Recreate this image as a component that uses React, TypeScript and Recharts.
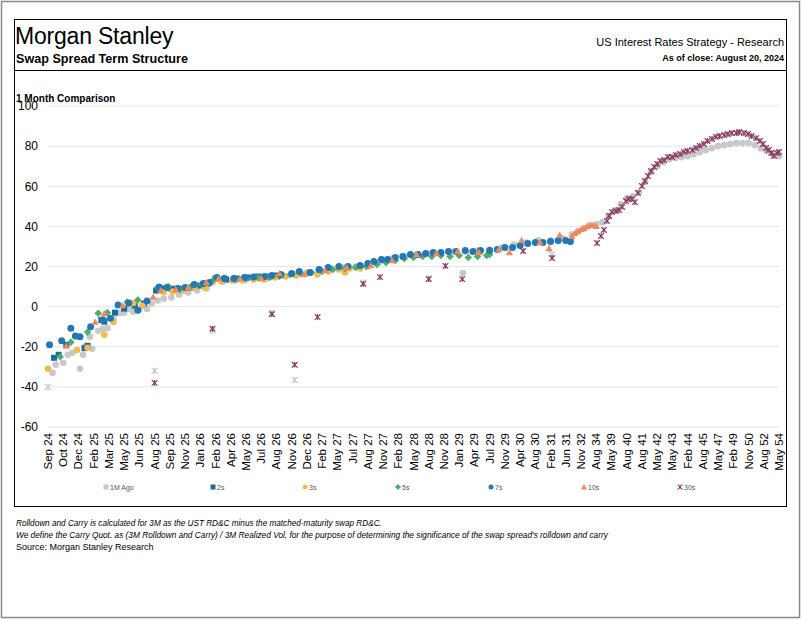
import React from 'react';
import { ScatterChart, Scatter, XAxis, YAxis, CartesianGrid } from 'recharts';

type Pt = [number, number];

// x = position along the maturity axis (in tick-label units), y = spread (bp)
const xLabels = [
	'Sep 24', 'Oct 24', 'Dec 24', 'Feb 25', 'Mar 25', 'May 25', 'Jun 25', 'Aug 25', 'Sep 25', 'Nov 25',
	'Jan 26', 'Feb 26', 'Apr 26', 'May 26', 'Jul 26', 'Aug 26', 'Nov 26', 'Dec 26', 'Feb 27', 'May 27',
	'Jul 27', 'Aug 27', 'Nov 27', 'Feb 28', 'May 28', 'Aug 28', 'Nov 28', 'Jan 29', 'Apr 29', 'Jul 29',
	'Nov 29', 'Apr 30', 'Aug 30', 'Feb 31', 'Jun 31', 'Nov 32', 'Aug 34', 'May 39', 'Aug 40', 'Aug 41',
	'May 42', 'May 43', 'Feb 44', 'Aug 45', 'May 47', 'Feb 49', 'Nov 50', 'Aug 52', 'May 54',
];
const yTicks = [-60, -40, -20, 0, 20, 40, 60, 80, 100];

const s1MAgo: Pt[] = [
	[0.3, -33], [0.5, -29], [1.0, -28], [1.3, -24], [1.6, -23], [2.1, -31], [2.3, -24], [2.4, -20],
	[2.75, -15], [2.9, -21], [3.3, -12], [3.6, -11], [3.9, -10.7], [4.3, -6], [4.7, -3.2], [5.0, -3],
	[5.3, -1.2], [5.6, -2.5], [6.0, -1.2], [6.5, -1.2], [6.8, 1.5], [7.2, 3], [7.6, 4], [8.1, 4.5],
	[8.6, 6], [9.2, 7], [9.8, 8], [10.4, 9], [10.8, 12], [11.5, 12.5], [12.3, 13], [13.0, 13.5],
	[13.8, 14], [14.6, 14.5], [15.4, 15.5], [16.2, 16], [17.0, 17], [17.8, 18], [18.6, 19], [19.4, 19.5],
	[20.2, 20], [21.0, 21], [21.8, 22.5], [22.6, 24], [23.4, 25], [24.2, 26], [25.0, 26.5], [25.8, 27],
	[26.6, 27.5], [27.25, 16.7], [27.4, 27.5], [28.2, 28], [29.0, 28.5], [29.8, 29.5], [30.6, 31],
	[31.4, 32], [32.2, 33], [33.0, 33], [33.8, 34], [34.4, 36], [34.8, 37.5], [35.2, 39], [35.6, 40.5],
	[36.0, 41], [36.4, 42], [36.8, 45], [37.2, 48], [37.6, 51], [38.0, 54], [38.4, 55], [38.8, 57],
	[39.2, 62], [39.6, 67], [40.0, 70], [40.4, 72], [40.8, 73.5], [41.2, 74], [41.6, 74.5], [42.0, 75],
	[42.4, 76], [42.8, 77], [43.2, 78], [43.6, 79], [44.0, 80], [44.4, 80.5], [44.8, 81], [45.2, 81.5],
	[45.6, 81.5], [46.0, 81.5], [46.4, 80.5], [46.8, 79], [47.2, 77.5], [47.6, 76], [48.0, 75],
];
const s1MAgoOdd: Pt[] = [
	[0.0, -40], [7.0, -32], [10.8, -12], [14.7, -3], [16.2, -36.6], [20.7, 12], [25.0, 14], [33.1, 26],
];
const s2s: Pt[] = [
	[0.4, -25.5], [0.7, -24], [1.2, -19], [2.4, -20.7], [2.6, -19.5], [3.5, -6.7], [3.7, -7.5], [4.4, -3],
	[5.0, -1], [5.7, 0.5], [6.3, 1.5], [7.1, 8], [7.5, 9], [8.1, 9], [8.8, 8.5], [9.4, 9.5], [10.0, 10.5],
	[10.5, 11.5], [11.0, 14], [11.7, 13.5], [12.4, 14], [13.1, 14.5], [13.8, 15], [14.5, 15], [15.0, 15.5],
];
const s3s: Pt[] = [
	[0.0, -31], [1.9, -21.6], [2.6, -20.5], [3.7, -14], [4.3, -7.7], [5.6, 1.8], [6.2, 0.5], [7.6, 7.3],
	[8.2, 7.5], [8.9, 8], [9.6, 9.5], [10.3, 9.5], [10.8, 12.5], [11.4, 12.5], [12.1, 13], [12.8, 13],
	[13.5, 13.5], [14.2, 13.5], [14.9, 14.5], [15.6, 15], [16.3, 15.5], [17.0, 16.5], [17.7, 16],
	[18.4, 17.5], [19.1, 18.5], [19.5, 17], [19.8, 19], [20.5, 19], [21.0, 20],
];
const s5s: Pt[] = [
	[0.8, -25], [1.5, -17.7], [2.6, -12.7], [3.3, -3.3], [3.9, -3], [5.2, 2.3], [5.9, 3.3], [7.2, 9.5],
	[7.9, 10], [8.7, 9], [9.4, 10], [10.1, 11], [10.9, 13.5], [11.5, 14], [12.3, 13.5], [13.0, 14],
	[13.8, 14.5], [14.5, 14.5], [15.2, 15], [15.9, 16], [16.6, 16.5], [17.3, 17], [18.0, 17.5],
	[18.7, 18.5], [19.5, 19], [20.2, 19.5], [20.9, 20], [21.6, 21], [22.2, 22], [22.8, 23], [23.4, 24],
	[24.0, 24.5], [24.6, 25], [25.2, 25], [25.8, 25.5], [26.4, 25], [27.0, 25.5], [27.6, 24.5],
	[28.2, 25], [28.8, 25.5], [29.0, 26],
];
const s7s: Pt[] = [
	[0.1, -19], [0.9, -17], [1.5, -10.8], [1.8, -14.7], [2.1, -15], [2.8, -10], [3.6, -6.5], [4.1, -5.8],
	[4.6, 0.8], [5.3, 1.8], [5.9, -1.8], [6.5, 2.8], [7.3, 9.8], [7.8, 9.5], [8.5, 9], [9.0, 9.5],
	[9.6, 11], [10.2, 11.5], [10.6, 12], [11.1, 14.5], [11.6, 14], [12.2, 14], [12.9, 14.5], [13.5, 14.8],
	[14.2, 15], [14.7, 15.5], [15.3, 16], [16.0, 16.5], [16.5, 17.5], [17.2, 17], [17.8, 18.5],
	[18.4, 19.5], [19.1, 20], [19.7, 20], [20.5, 20.5], [21.0, 21.5], [21.4, 22.5], [21.9, 23.5],
	[22.3, 23.5], [22.8, 24.5], [23.3, 25], [23.8, 26], [24.3, 26], [24.8, 26.5], [25.3, 27], [25.8, 27],
	[26.3, 27.5], [26.8, 27.5], [27.4, 28], [27.9, 27.5], [28.4, 28], [29.0, 28], [29.5, 28.5],
	[30.0, 29.5], [30.5, 29.5], [31.0, 30.5], [31.5, 31.5], [32.0, 32], [32.5, 32], [33.0, 32.5],
	[33.5, 33], [34.0, 33], [34.3, 32.5],
];
const s10s: Pt[] = [
	[1.2, -19.6], [3.1, -7.7], [3.7, -3.5], [4.9, 0.5], [6.9, 4.8], [7.4, 8], [8.4, 8.5], [9.2, 9.5],
	[10.4, 12], [11.2, 14], [12.6, 14], [14.0, 14], [15.2, 16.5], [16.8, 16], [18.2, 18], [19.6, 19.5],
	[21.2, 20.5], [22.6, 23], [24.2, 26], [25.5, 26.5], [26.9, 27.5], [28.3, 27], [29.6, 28.5],
	[30.3, 27], [31.1, 33], [32.3, 32], [32.9, 29], [33.6, 35.7], [34.4, 35], [34.6, 36.5], [34.8, 37.5],
	[35.0, 38.5], [35.2, 39], [35.4, 40], [35.6, 40.5], [35.8, 40.5], [36.0, 40],
];
const s30s: Pt[] = [
	[7.0, -38], [10.8, -11], [14.7, -3.8], [16.2, -29], [17.7, -5.2], [20.7, 11.3], [21.8, 14.7],
	[25.0, 13.7], [26.1, 20.3], [27.2, 13.7], [31.2, 27.7], [33.1, 24.2], [36.05, 31.7],
	[36.31, 35.2], [36.5, 38.2], [36.7, 42.7], [36.84, 45.2], [37.03, 47.2], [37.3, 47.7], [37.5, 48.2],
	[37.7, 49.7], [37.95, 52.6], [38.15, 53.6], [38.35, 53.6], [38.54, 52.1], [38.74, 56.6], [39.0, 60.1],
	[39.2, 62.6], [39.4, 65.1], [39.6, 67.6], [39.8, 69.6], [40.0, 71.1], [40.2, 72.6], [40.45, 73.1],
	[40.7, 74.6], [40.97, 74.6], [41.23, 75.6], [41.5, 76.1], [41.76, 77.1], [42.0, 77.6], [42.3, 78.1],
	[42.55, 79.1], [42.8, 80.1], [43.07, 81.1], [43.3, 82.6], [43.6, 83.6], [43.86, 84.6], [44.1, 85.0],
	[44.4, 85.5], [44.65, 86.0], [44.9, 86.5], [45.2, 86.5], [45.4, 87.0], [45.7, 86.5], [45.96, 86.0],
	[46.2, 85.0], [46.5, 84.0], [46.75, 82.6], [46.95, 81.1], [47.15, 79.1], [47.34, 78.1], [47.5, 76.6],
	[47.67, 75.1], [47.87, 76.6], [48.0, 77.1],
];

const C = {
	ago: '#c8c8c8',
	s2: '#1b6b9a',
	s3: '#eebb4d',
	s5: '#4fae6c',
	s7: '#2178b4',
	s10: '#ef8a5c',
	s30: '#8a3a63',
};

const FONT = '"Liberation Sans", Arial, Helvetica, sans-serif';

const toPts = (arr: Pt[]) => arr.map(([x, y]) => ({ x, y }));

const dot = (color: string, r: number) => (p: any) => (
	<circle cx={p.cx} cy={p.cy} r={r} fill={color} />
);
const square = (color: string, s: number) => (p: any) => (
	<rect x={p.cx - s / 2} y={p.cy - s / 2} width={s} height={s} fill={color} />
);
const diamond = (color: string, s: number) => (p: any) => (
	<polygon
		points={`${p.cx},${p.cy - s} ${p.cx + s},${p.cy} ${p.cx},${p.cy + s} ${p.cx - s},${p.cy}`}
		fill={color}
	/>
);
const triangle = (color: string, s: number) => (p: any) => (
	<polygon
		points={`${p.cx},${p.cy - s} ${p.cx + s},${p.cy + s * 0.75} ${p.cx - s},${p.cy + s * 0.75}`}
		fill={color}
	/>
);
const star = (color: string, s: number) => (p: any) => (
	<g stroke={color} strokeWidth={1.2}>
		<line x1={p.cx - s} y1={p.cy - s} x2={p.cx + s} y2={p.cy + s} />
		<line x1={p.cx - s} y1={p.cy + s} x2={p.cx + s} y2={p.cy - s} />
		<line x1={p.cx} y1={p.cy - s} x2={p.cx} y2={p.cy + s} />
	</g>
);

const XTick = ({ x, y, payload }: any) => (
	<text
		x={x}
		y={y}
		transform={`rotate(-90, ${x}, ${y})`}
		textAnchor="end"
		dy="0.35em"
		fontSize={11.5}
		fontFamily={FONT}
		fill="#000"
	>
		{xLabels[payload.value]}
	</text>
);

const legendItems = [
	{ label: '1M Ago', x: 106, kind: 'square', color: C.ago },
	{ label: '2s', x: 213, kind: 'square', color: C.s2 },
	{ label: '3s', x: 305, kind: 'circle', color: C.s3 },
	{ label: '5s', x: 398, kind: 'diamond', color: C.s5 },
	{ label: '7s', x: 491, kind: 'circle', color: C.s7 },
	{ label: '10s', x: 584, kind: 'triangle', color: C.s10 },
	{ label: '30s', x: 680, kind: 'star', color: C.s30 },
];

function LegendMark({ kind, x, y, color }: any) {
	if (kind === 'square') return <rect x={x - 2.5} y={y - 2.5} width={5} height={5} fill={color} />;
	if (kind === 'circle') return <circle cx={x} cy={y} r={2.5} fill={color} />;
	if (kind === 'diamond')
		return <polygon points={`${x},${y - 3} ${x + 3},${y} ${x},${y + 3} ${x - 3},${y}`} fill={color} />;
	if (kind === 'triangle')
		return <polygon points={`${x},${y - 3} ${x + 3},${y + 2.5} ${x - 3},${y + 2.5}`} fill={color} />;
	return (
		<g stroke={color} strokeWidth={1}>
			<line x1={x - 2.5} y1={y - 2.5} x2={x + 2.5} y2={y + 2.5} />
			<line x1={x - 2.5} y1={y + 2.5} x2={x + 2.5} y2={y - 2.5} />
			<line x1={x} y1={y - 2.5} x2={x} y2={y + 2.5} />
		</g>
	);
}

export default function App() {
	const xTicks = xLabels.map((_, i) => i);
	return (
		<div style={{ position: 'absolute', left: 0, top: 0, width: 802, height: 620, background: '#fff', fontFamily: FONT }}>
			<svg width={802} height={620} style={{ position: 'absolute', left: 0, top: 0 }}>
				<rect x={1.5} y={1.5} width={798} height={616} fill="none" stroke="#8a8a8a" strokeWidth={1.5} />
				<rect x={14.5} y={19.5} width={772} height={487} fill="none" stroke="#000" strokeWidth={1} />
				<line x1={14} y1={70.5} x2={787} y2={70.5} stroke="#000" strokeWidth={1.2} />
				<text x={15} y={44} fontSize={23} fill="#000" letterSpacing={-0.2} fontFamily={FONT}>
					Morgan Stanley
				</text>
				<text x={16} y={63} fontSize={12.6} fontWeight="bold" fill="#000" fontFamily={FONT}>
					Swap Spread Term Structure
				</text>
				<text x={784} y={46} fontSize={11} textAnchor="end" fill="#000" fontFamily={FONT}>
					US Interest Rates Strategy - Research
				</text>
				<text x={784} y={61} fontSize={9} fontWeight="bold" textAnchor="end" fill="#000" fontFamily={FONT}>
					As of close: August 20, 2024
				</text>
				<text x={16} y={102} fontSize={10} fontWeight="bold" fill="#000" fontFamily={FONT}>
					1 Month Comparison
				</text>
				{legendItems.map((it) => (
					<g key={it.label}>
						<LegendMark kind={it.kind} x={it.x} y={487} color={it.color} />
						<text x={it.x + 4} y={489.5} fontSize={7} fill="#555" fontFamily={FONT}>
							{it.label}
						</text>
					</g>
				))}
				<text x={16} y={526} fontSize={8.2} fontStyle="italic" fill="#000" fontFamily={FONT}>
					Rolldown and Carry is calculated for 3M as the UST RD&amp;C minus the matched-maturity swap RD&amp;C.
				</text>
				<text x={16} y={538} fontSize={8.3} fontStyle="italic" fill="#000" fontFamily={FONT}>
					We define the Carry Quot. as (3M Rolldown and Carry) / 3M Realized Vol, for the purpose of determining the significance of the swap spread's rolldown and carry
				</text>
				<text x={16} y={550} fontSize={9} fill="#000" fontFamily={FONT}>
					Source: Morgan Stanley Research
				</text>
			</svg>
			<div style={{ position: 'absolute', left: 0, top: 0 }}>
				<ScatterChart width={802} height={480} margin={{ top: 106, right: 23, bottom: 0, left: 0 }}>
					<CartesianGrid horizontal vertical={false} stroke="#e6e6e6" />
					<XAxis
						type="number"
						dataKey="x"
						domain={[0, 48]}
						ticks={xTicks}
						interval={0}
						axisLine={false}
						tickLine={false}
						tickSize={0}
						tickMargin={6}
						height={53}
						tick={<XTick />}
						allowDecimals={false}
					/>
					<YAxis
						type="number"
						dataKey="y"
						domain={[-60, 100]}
						ticks={yTicks}
						interval={0}
						axisLine={false}
						tickLine={false}
						tickSize={0}
						tickMargin={10}
						width={48}
						tick={{ fontSize: 12, fill: '#000', fontFamily: FONT }}
					/>
					<Scatter name="1M Ago" data={toPts(s1MAgo)} shape={dot(C.ago, 3.3)} isAnimationActive={false} />
					<Scatter name="1M Ago odd" data={toPts(s1MAgoOdd)} shape={star(C.ago, 3)} isAnimationActive={false} />
					<Scatter name="2s" data={toPts(s2s)} shape={square(C.s2, 6)} isAnimationActive={false} />
					<Scatter name="3s" data={toPts(s3s)} shape={dot(C.s3, 3.3)} isAnimationActive={false} />
					<Scatter name="5s" data={toPts(s5s)} shape={diamond(C.s5, 3.8)} isAnimationActive={false} />
					<Scatter name="7s" data={toPts(s7s)} shape={dot(C.s7, 3.5)} isAnimationActive={false} />
					<Scatter name="10s" data={toPts(s10s)} shape={triangle(C.s10, 3.6)} isAnimationActive={false} />
					<Scatter name="30s" data={toPts(s30s)} shape={star(C.s30, 2.8)} isAnimationActive={false} />
				</ScatterChart>
			</div>
		</div>
	);
}
